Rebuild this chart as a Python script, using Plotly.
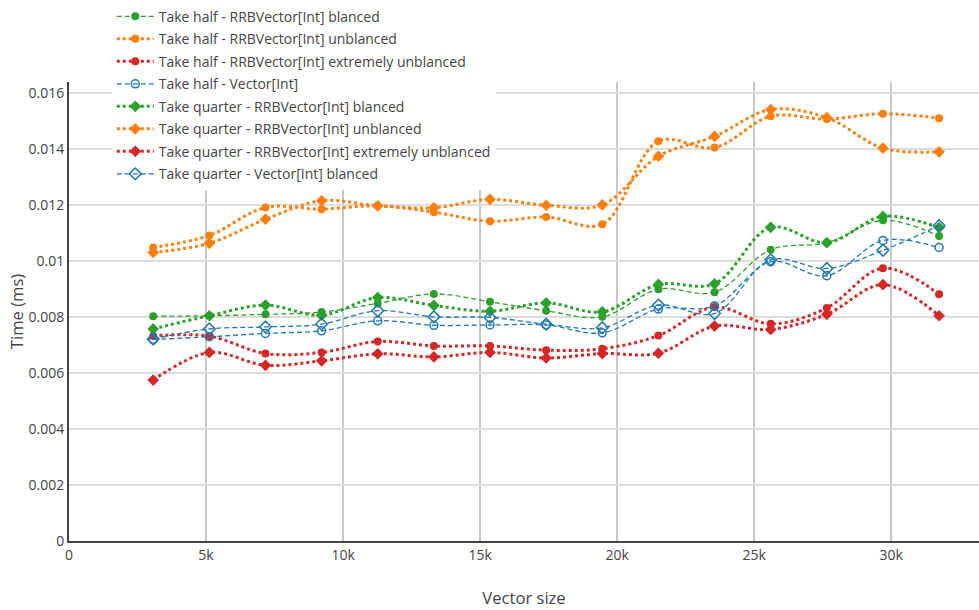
import plotly.graph_objects as go

vector_size = [3072, 5120, 7168, 9216, 11264, 13312, 15360, 17408, 19456,
               21504, 23552, 25600, 27648, 29696, 31744]

half_rrb_blanced = [0.00803, 0.00805, 0.00810, 0.00818, 0.00849, 0.00883, 0.00855, 0.00823,
                    0.00801, 0.00900, 0.00889, 0.01041, 0.01066, 0.01146, 0.01090]
half_rrb_unblanced = [0.01049, 0.01092, 0.01192, 0.01186, 0.01198, 0.01175, 0.01143, 0.01158,
                      0.01132, 0.01429, 0.01406, 0.01518, 0.01508, 0.01527, 0.01511]
half_rrb_extreme = [0.00733, 0.00732, 0.00670, 0.00674, 0.00713, 0.00697, 0.00697, 0.00682,
                    0.00687, 0.00734, 0.00836, 0.00776, 0.00833, 0.00975, 0.00882]
half_vector = [0.00720, 0.00730, 0.00742, 0.00751, 0.00787, 0.00771, 0.00772, 0.00772,
               0.00744, 0.00829, 0.00840, 0.00998, 0.00948, 0.01074, 0.01049]
quarter_rrb_blanced = [0.00758, 0.00805, 0.00843, 0.00807, 0.00870, 0.00842, 0.00821, 0.00851,
                       0.00819, 0.00917, 0.00919, 0.01121, 0.01066, 0.01160, 0.01120]
quarter_rrb_unblanced = [0.01031, 0.01064, 0.01150, 0.01216, 0.01198, 0.01191, 0.01221, 0.01200,
                         0.01201, 0.01375, 0.01446, 0.01542, 0.01513, 0.01404, 0.01391]
quarter_rrb_extreme = [0.00575, 0.00674, 0.00628, 0.00644, 0.00669, 0.00658, 0.00674, 0.00654,
                       0.00670, 0.00671, 0.00768, 0.00756, 0.00810, 0.00916, 0.00805]
quarter_vector = [0.00722, 0.00758, 0.00765, 0.00775, 0.00823, 0.00801, 0.00799, 0.00775,
                  0.00762, 0.00843, 0.00813, 0.01005, 0.00974, 0.01039, 0.01127]

series_names = [
    "Take half - RRBVector[Int] blanced",
    "Take half - RRBVector[Int] unblanced",
    "Take half - RRBVector[Int] extremely unblanced",
    "Take half - Vector[Int]",
    "Take quarter - RRBVector[Int] blanced",
    "Take quarter - RRBVector[Int] unblanced",
    "Take quarter - RRBVector[Int] extremely unblanced",
    "Take quarter - Vector[Int] blanced",
]
series_values = [half_rrb_blanced, half_rrb_unblanced, half_rrb_extreme, half_vector,
                 quarter_rrb_blanced, quarter_rrb_unblanced, quarter_rrb_extreme, quarter_vector]

GREEN, ORANGE, RED, BLUE = "#2ca02c", "#ff7f0e", "#d62728", "#1f77b4"
styles = [
    dict(color=GREEN, symbol="circle", thinline=True),
    dict(color=ORANGE, symbol="circle", thinline=False),
    dict(color=RED, symbol="circle", thinline=False),
    dict(color=BLUE, symbol="circle-open", thinline=True),
    dict(color=GREEN, symbol="diamond", thinline=False),
    dict(color=ORANGE, symbol="diamond", thinline=False),
    dict(color=RED, symbol="diamond", thinline=False),
    dict(color=BLUE, symbol="diamond-open", thinline=True),
]

fig = go.Figure()
for k, (name, vals, st) in enumerate(zip(series_names, series_values, styles)):
    if st["thinline"]:
        line = dict(color=st["color"], width=1.3, dash="5px,3px", shape="spline")
    else:
        line = dict(color=st["color"], width=3, dash="dot", shape="spline")
    is_diamond = st["symbol"].startswith("diamond")
    fig.add_trace(go.Scatter(
        x=vector_size, y=vals, name=name, mode="lines+markers",
        legendgroup=f"g{k}",
        line=line,
        marker=dict(symbol=st["symbol"], size=9 if is_diamond else 8, color=st["color"],
                    line=dict(width=1.5 if "open" in st["symbol"] else 0, color=st["color"])),
    ))

fig.update_layout(
    width=979, height=610,
    margin=dict(l=69, r=0, t=82, b=69),
    paper_bgcolor="white", plot_bgcolor="white",
    font=dict(family="Open Sans", size=14, color="#444"),
    legend=dict(x=0.047, y=1.177, xanchor="left", yanchor="top",
                bgcolor="white", font=dict(size=14, color="#444"),
                itemwidth=37, tracegroupgap=1.3),
    xaxis=dict(title=dict(text="Vector size", font=dict(size=16.6), standoff=30),
               range=[0, 33200],
               dtick=5000, showgrid=True, gridcolor="#c8c8c8", gridwidth=2,
               showline=True, linecolor="#444", linewidth=2, zeroline=False,
               ticks="", tickfont=dict(size=14)),
    yaxis=dict(title=dict(text="Time (ms)", font=dict(size=16.6), standoff=1),
               range=[0, 0.016404],
               dtick=0.002, showgrid=True, gridcolor="#dcdcdc", gridwidth=2,
               showline=True, linecolor="#444", linewidth=2, zeroline=False,
               ticks="", tickfont=dict(size=14)),
)

fig.write_html("out.html")
